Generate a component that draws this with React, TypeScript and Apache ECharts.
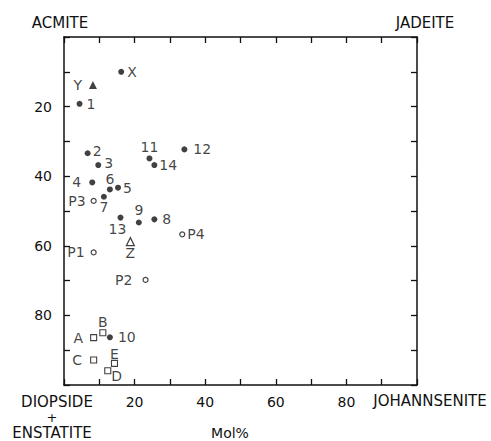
import React, { useEffect, useRef } from "react";
import * as echarts from "echarts";

// Filled circles (numbered samples and X)
const filledNames = ["X", "1", "2", "3", "4", "5", "6", "7", "8", "9", "10", "11", "12", "13", "14"];
const filledX = [16.2, 4.4, 6.7, 9.7, 8.0, 15.3, 13.0, 11.3, 25.6, 21.2, 13.0, 24.2, 34.1, 16.0, 25.6];
const filledY = [10.0, 19.2, 33.4, 36.8, 41.8, 43.3, 43.8, 45.9, 52.4, 53.3, 86.3, 34.9, 32.3, 51.9, 36.8];

// Filled triangle
const triFilledNames = ["Y"];
const triFilledX = [8.2];
const triFilledY = [13.8];

// Open triangle
const triOpenNames = ["Z"];
const triOpenX = [18.8];
const triOpenY = [58.8];

// Open circles
const openCircleNames = ["P1", "P2", "P3", "P4"];
const openCircleX = [8.4, 23.1, 8.4, 33.5];
const openCircleY = [61.9, 69.8, 47.1, 56.7];

// Open squares
const squareNames = ["A", "B", "C", "D", "E"];
const squareX = [8.4, 11.0, 8.4, 12.4, 14.3];
const squareY = [86.4, 85.0, 92.8, 95.9, 93.8];

const xTickLabels = [20, 40, 60, 80];
const yTickLabels = [20, 40, 60, 80];

const INK = "#111";
const FONT = "DejaVu Sans";

// label placement (presentation only)
const labelPlace: Record<string, { position: string; distance: number; offset?: number[] }> = {
  X: { position: "right", distance: 3 },
  Y: { position: "left", distance: 7 },
  "1": { position: "right", distance: 4 },
  "2": { position: "right", distance: 2, offset: [0, -2] },
  "3": { position: "right", distance: 3, offset: [0, -2] },
  "4": { position: "left", distance: 8 },
  "5": { position: "right", distance: 2 },
  "6": { position: "top", distance: 1 },
  "7": { position: "bottom", distance: 1 },
  "8": { position: "right", distance: 5 },
  "9": { position: "top", distance: 3 },
  "10": { position: "right", distance: 5 },
  "11": { position: "top", distance: 2 },
  "12": { position: "right", distance: 6 },
  "13": { position: "bottom", distance: 2, offset: [-3, 0] },
  "14": { position: "right", distance: 2 },
  P1: { position: "left", distance: 6 },
  P2: { position: "left", distance: 10 },
  P3: { position: "left", distance: 5 },
  P4: { position: "right", distance: 2 },
  Z: { position: "bottom", distance: 1 },
  A: { position: "left", distance: 7 },
  B: { position: "top", distance: 1 },
  C: { position: "left", distance: 8 },
  D: { position: "right", distance: 0, offset: [0, 5] },
  E: { position: "top", distance: 0 },
};

function buildData(names: string[], xs: number[], ys: number[]) {
  return names.map((n, i) => {
    const p = labelPlace[n] || { position: "right", distance: 4 };
    return {
      name: n,
      value: [xs[i], ys[i]],
      label: { position: p.position, distance: p.distance, offset: p.offset || [0, 0] },
    };
  });
}

const baseLabel = {
  show: true,
  formatter: "{b}",
  color: INK,
  fontSize: 14,
  lineHeight: 12,
  fontFamily: FONT,
};

export default function App() {
  const ref = useRef<HTMLDivElement>(null);
  useEffect(() => {
    if (!ref.current) return;
    const chart = echarts.init(ref.current, null, { renderer: "svg" });
    const axisLine = { show: true, onZero: false, lineStyle: { color: INK, width: 1.5 } };
    const axisTick = { show: true, inside: true, length: 6, lineStyle: { color: INK, width: 1.3 } };
    const labelStyle = { color: INK, fontSize: 14, fontFamily: FONT };
    const textStyle = (size: number) => ({
      fill: INK,
      font: `${size}px "${FONT}"`,
      lineHeight: 13,
      textAlign: "center",
      textVerticalAlign: "middle",
    });
    const option: any = {
      animation: false,
      backgroundColor: "#fff",
      grid: { left: 64, top: 37, right: 74, bottom: 56, containLabel: false },
      xAxis: [
        {
          type: "value",
          min: 0,
          max: 100,
          interval: 10,
          position: "bottom",
          axisLine,
          axisTick,
          splitLine: { show: false },
          axisLabel: {
            ...labelStyle,
            margin: 10,
            formatter: (v: number) => (xTickLabels.includes(v) ? String(v) : ""),
          },
        },
        {
          type: "value",
          min: 0,
          max: 100,
          interval: 10,
          position: "top",
          axisLine,
          axisTick,
          splitLine: { show: false },
          axisLabel: { show: false },
        },
      ],
      yAxis: [
        {
          type: "value",
          min: 0,
          max: 100,
          interval: 10,
          inverse: true,
          position: "left",
          axisLine,
          axisTick,
          splitLine: { show: false },
          axisLabel: {
            ...labelStyle,
            margin: 12,
            formatter: (v: number) => (yTickLabels.includes(v) ? String(v) : ""),
          },
        },
        {
          type: "value",
          min: 0,
          max: 100,
          interval: 10,
          inverse: true,
          position: "right",
          axisLine,
          axisTick,
          splitLine: { show: false },
          axisLabel: { show: false },
        },
      ],
      series: [
        {
          type: "scatter",
          xAxisIndex: 0,
          yAxisIndex: 0,
          symbol: "circle",
          symbolSize: 6,
          itemStyle: { color: INK },
          label: baseLabel,
          data: buildData(filledNames, filledX, filledY),
        },
        {
          type: "scatter",
          xAxisIndex: 0,
          yAxisIndex: 0,
          symbol: "triangle",
          symbolSize: 8,
          itemStyle: { color: INK },
          label: baseLabel,
          data: buildData(triFilledNames, triFilledX, triFilledY),
        },
        {
          type: "scatter",
          xAxisIndex: 0,
          yAxisIndex: 0,
          symbol: "triangle",
          symbolSize: 8,
          itemStyle: { color: "#fff", borderColor: INK, borderWidth: 1.2 },
          label: baseLabel,
          data: buildData(triOpenNames, triOpenX, triOpenY),
        },
        {
          type: "scatter",
          xAxisIndex: 0,
          yAxisIndex: 0,
          symbol: "circle",
          symbolSize: 5,
          itemStyle: { color: "#fff", borderColor: INK, borderWidth: 1.2 },
          label: baseLabel,
          data: buildData(openCircleNames, openCircleX, openCircleY),
        },
        {
          type: "scatter",
          xAxisIndex: 0,
          yAxisIndex: 0,
          symbol: "rect",
          symbolSize: 6,
          itemStyle: { color: "#fff", borderColor: INK, borderWidth: 1.1 },
          label: baseLabel,
          data: buildData(squareNames, squareX, squareY),
        },
      ],
      graphic: [
        { type: "text", x: 60, y: 23, style: { text: "ACMITE", ...textStyle(15) } },
        { type: "text", x: 425, y: 23, style: { text: "JADEITE", ...textStyle(15) } },
        { type: "text", x: 430, y: 401, style: { text: "JOHANNSENITE", ...textStyle(15) } },
        { type: "text", x: 57, y: 402, style: { text: "DIOPSIDE", ...textStyle(15) } },
        { type: "text", x: 52, y: 417, style: { text: "+", ...textStyle(13) } },
        { type: "text", x: 52, y: 433, style: { text: "ENSTATITE", ...textStyle(15) } },
        { type: "text", x: 230, y: 433, style: { text: "Mol%", ...textStyle(14) } },
      ],
    };
    chart.setOption(option);
    return () => chart.dispose();
  }, []);
  return (
    <div
      ref={ref}
      style={{ position: "absolute", left: 0, top: 0, width: 491, height: 441, background: "#fff" }}
    />
  );
}
